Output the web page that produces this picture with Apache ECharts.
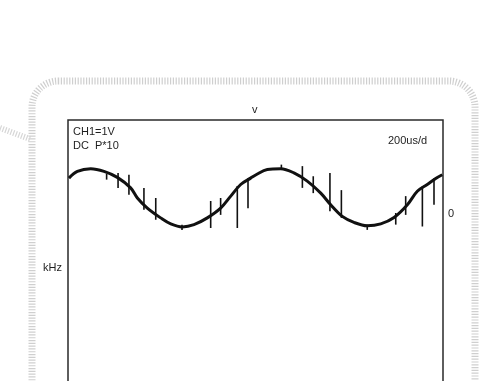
<!DOCTYPE html>
<html>
<head>
<meta charset="utf-8">
<style>
html,body{margin:0;padding:0;background:#fff;}
#chart{width:490px;height:381px;}
</style>
<script src="https://cdn.jsdelivr.net/npm/echarts@6/dist/echarts.min.js"></script>
</head>
<body>
<div id="chart"></div>
<script>
// Time axis in microseconds (200 us/div), voltage in volts (1 V/div)
var curveTime = [5, 50, 121, 192, 263, 334, 370, 423, 494, 548, 610, 672, 743, 814, 868, 921, 974, 1003, 1063, 1134, 1205, 1276, 1348, 1401, 1463, 1525, 1596, 1668, 1739, 1810, 1863, 1916, 1961, 1996];
var curveVolt = [0.95, 1.13, 1.20, 1.13, 0.97, 0.69, 0.42, 0.15, -0.11, -0.27, -0.35, -0.29, -0.11, 0.15, 0.47, 0.78, 0.95, 1.04, 1.18, 1.20, 1.09, 0.87, 0.55, 0.24, -0.07, -0.23, -0.32, -0.27, -0.10, 0.24, 0.60, 0.78, 0.94, 1.04];

// Glitch spikes: time, top voltage, bottom voltage
var spikeTime   = [206, 267, 325, 405, 468, 608, 761, 814, 903, 960, 1138, 1250, 1308, 1397, 1458, 1596, 1748, 1801, 1890, 1952];
var spikeTop    = [1.06, 1.09, 1.04, 0.69, 0.42, -0.29, 0.34, 0.42, 0.74, 0.95, 1.31, 1.27, 1.00, 1.09, 0.63, -0.29, 0.02, 0.47, 0.73, 0.95];
var spikeBottom = [0.91, 0.69, 0.51, 0.11, -0.16, -0.43, -0.38, -0.03, -0.38, 0.15, 1.18, 0.69, 0.55, 0.07, -0.11, -0.43, -0.29, -0.03, -0.34, 0.24];

var channelLabel = 'CH1=1V';
var couplingLabel = 'DC  P*10';
var timebaseLabel = '200us/d';
var topLabel = 'v';
var leftLabel = 'kHz';
var zeroLabel = '0';

var curveData = curveTime.map(function (t, i) { return [t, curveVolt[i]]; });
var spikeData = spikeTime.map(function (t, i) { return [t, spikeTop[i], spikeBottom[i]]; });

var chart = echarts.init(document.getElementById('chart'), null, { renderer: 'canvas' });
var font = '"Liberation Sans", Arial, sans-serif';
var frameStyle = { fill: 'none', stroke: '#cfcfcf', lineWidth: 7, lineDash: [1.2, 1.6] };

chart.setOption({
  animation: false,
  backgroundColor: '#ffffff',
  grid: {
    left: 68, top: 120, right: 47, bottom: 0,
    show: false
  },
  xAxis: {
    type: 'value', min: 0, max: 2000,
    axisLine: { show: false }, axisTick: { show: false }, axisLabel: { show: false }, splitLine: { show: false }
  },
  yAxis: {
    type: 'value', min: -4.46, max: 2.5,
    axisLine: { show: false }, axisTick: { show: false }, axisLabel: { show: false }, splitLine: { show: false }
  },
  graphic: [
    { type: 'rect', z: -10, silent: true, shape: { x: 32, y: 81, width: 443, height: 420, r: 26 }, style: frameStyle },
    { type: 'line', z: -10, silent: true, shape: { x1: 0, y1: 128, x2: 30, y2: 139 }, style: { stroke: '#d6d6d6', lineWidth: 6, lineDash: [1.2, 1.6] } },
    { type: 'polyline', z: 1, silent: true, shape: { points: [[68, 430], [68, 120], [443, 120], [443, 430]] }, style: { fill: 'none', stroke: '#2a2a2a', lineWidth: 1.5 } },
    { type: 'text', left: 73, top: 126, style: { text: channelLabel, font: '11px ' + font, fill: '#1e1e1e' } },
    { type: 'text', left: 73, top: 140, style: { text: couplingLabel, font: '11px ' + font, fill: '#1e1e1e' } },
    { type: 'text', left: 388, top: 135, style: { text: timebaseLabel, font: '11px ' + font, fill: '#1e1e1e' } },
    { type: 'text', left: 252, top: 104, style: { text: topLabel, font: '11px ' + font, fill: '#1e1e1e' } },
    { type: 'text', left: 43, top: 262, style: { text: leftLabel, font: '11px ' + font, fill: '#1e1e1e' } },
    { type: 'text', left: 448, top: 208, style: { text: zeroLabel, font: '11px ' + font, fill: '#1e1e1e' } }
  ],
  series: [
    {
      type: 'line',
      data: curveData,
      smooth: 0.35,
      showSymbol: false,
      lineStyle: { color: '#111111', width: 3 },
      z: 3
    },
    {
      type: 'custom',
      data: spikeData,
      z: 4,
      renderItem: function (params, api) {
        var p1 = api.coord([api.value(0), api.value(1)]);
        var p2 = api.coord([api.value(0), api.value(2)]);
        return {
          type: 'line',
          shape: { x1: p1[0], y1: p1[1], x2: p2[0], y2: p2[1] },
          style: { stroke: '#111111', lineWidth: 1.6 }
        };
      }
    }
  ]
});
</script>
</body>
</html>
